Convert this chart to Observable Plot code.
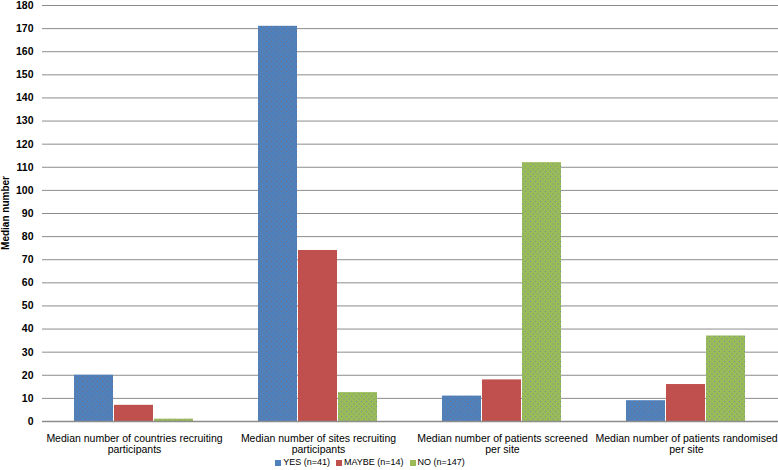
<!DOCTYPE html>
<html>
<head>
<meta charset="utf-8">
<script src="https://cdn.jsdelivr.net/npm/d3@7"></script>
<script src="https://cdn.jsdelivr.net/npm/@observablehq/plot@0.6"></script>
<style>
  body { margin: 0; background: #fff; font-family: "Liberation Sans", Arial, sans-serif; }
  #chart { width: 778px; }
  .legend { display: flex; justify-content: center; gap: 6px; font-size: 9px; line-height: 11px; height: 11px; align-items: center; color: #000; margin-top: 0px; padding-right: 38px; }
  .legend > div { display: flex; align-items: center; }
  .legend span.sw { display: inline-block; width: 6px; height: 6px; margin-right: 2px; }
</style>
</head>
<body>
<div id="chart"></div>
<script>
const categories = [
  "Median number of countries recruiting participants",
  "Median number of sites recruiting participants",
  "Median number of patients screened per site",
  "Median number of patients randomised per site"
];
const categoryLabels = [
  "Median number of countries recruiting\nparticipants",
  "Median number of sites recruiting\nparticipants",
  "Median number of patients screened\nper site",
  "Median number of patients randomised\nper site"
];
const seriesNames = ["YES (n=41)", "MAYBE (n=14)", "NO (n=147)"];
const seriesColors = ["#4F81BD", "#C0504D", "#9BBB59"];
const yesValues = [20, 171, 11, 9];
const maybeValues = [7, 74, 18, 16];
const noValues = [1, 12.5, 112, 37];
const yTicks = d3.range(0, 181, 10);

const allValues = [yesValues, maybeValues, noValues];
const data = [];
categories.forEach((c, i) => {
  seriesNames.forEach((s, j) => {
    data.push({category: c, series: s, value: allValues[j][i]});
  });
});
const labelOf = new Map(categories.map((c, i) => [c, categoryLabels[i]]));
const patternOf = new Map([[seriesNames[0], "url(#dotsBlue)"], [seriesNames[2], "url(#dotsGreen)"]]);

const plot = Plot.plot({
  width: 778,
  height: 457,
  marginLeft: 41,
  marginRight: 0,
  marginTop: 5,
  marginBottom: 36,
  style: {fontFamily: "'Liberation Sans', Arial, sans-serif", fontSize: "10px", background: "#fff", color: "#000"},
  fx: {domain: categories, padding: 0, label: null},
  x: {domain: seriesNames, paddingInner: 0.02, paddingOuter: 0.8, axis: null},
  y: {domain: [0, 180], label: null},
  color: {domain: seriesNames, range: seriesColors},
  marks: [
    Plot.ruleY(yTicks, {stroke: "#8c8c8c", strokeWidth: 1}),
    Plot.barY(data, {fx: "category", x: "series", y: "value", fill: "series"}),
    Plot.barY(data.filter(d => patternOf.has(d.series)), {fx: "category", x: "series", y: "value", fill: d => patternOf.get(d.series)}),
    Plot.ruleX([0], {stroke: "#b5b5b5", strokeWidth: 2, facetAnchor: "left"}),
    Plot.ruleY([0], {stroke: "#8c8c8c", strokeWidth: 1.5}),
    Plot.axisY({ticks: yTicks, tickSize: 0, tickPadding: 9, label: null, fontWeight: "bold", fontSize: 10.5, tickFormat: d3.format("d")}),
    Plot.axisFx({anchor: "bottom", tickSize: 0, tickPadding: 12, label: null, lineHeight: 1.1, fontSize: 10.5, tickFormat: d => labelOf.get(d)})
  ]
});
const svg = d3.select(plot);
const defs = svg.insert("defs", ":first-child");
function dots(id, dotColor) {
  const p = defs.append("pattern").attr("id", id).attr("patternUnits", "userSpaceOnUse").attr("width", 5).attr("height", 5);
  p.append("rect").attr("x", 1).attr("y", 1).attr("width", 1).attr("height", 1).attr("fill", dotColor).attr("opacity", 0.6);
  p.append("rect").attr("x", 3.5).attr("y", 3.5).attr("width", 1).attr("height", 1).attr("fill", dotColor).attr("opacity", 0.6);
}
dots("dotsBlue", "#8a5a4a");
dots("dotsGreen", "#4a74c8");
svg.append("text")
  .attr("transform", "translate(9,213) rotate(-90)")
  .attr("text-anchor", "middle")
  .attr("font-weight", "bold")
  .attr("font-size", "10px")
  .text("Median number");
document.getElementById("chart").appendChild(plot);

const legend = d3.select("#chart").append("div").attr("class", "legend");
seriesNames.forEach((s, i) => {
  const item = legend.append("div");
  item.append("span").attr("class", "sw").style("background", seriesColors[i]);
  item.append("span").text(s);
});
</script>
</body>
</html>
